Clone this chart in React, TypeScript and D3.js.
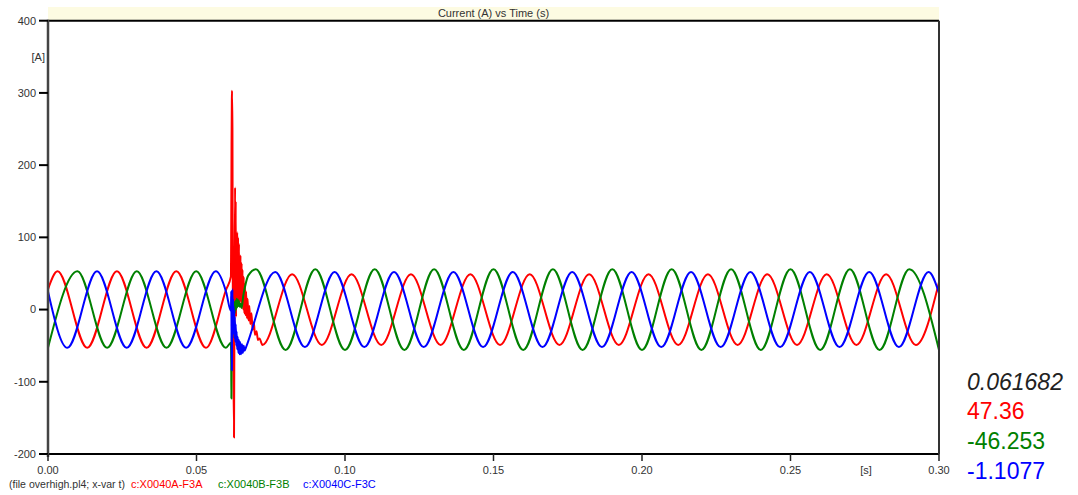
import React from 'react';
import * as d3 from 'd3';

const W = 1078;
const H = 495;

const titleText = 'Current (A) vs Time (s)';
const timeTicks = [0, 0.05, 0.1, 0.15, 0.2, 0.25, 0.3];
const timeTickLabels = ['0.00', '0.05', '0.10', '0.15', '0.20', '0.25', '0.30'];
const currentTicks = [-200, -100, 0, 100, 200, 300, 400];
const yUnit = '[A]';
const xUnit = '[s]';
const fileLabel = '(file overhigh.pl4; x-var t)';
const seriesNames = ['c:X0040A-F3A', 'c:X0040B-F3B', 'c:X0040C-F3C'];
const cursorTime = '0.061682';
const cursorValues = ['47.36', '-46.253', '-1.1077'];

// Phase A current (red): [time s, current A]
const phaseA: [number, number][] = [
  [0, 28], [0.0032, 53], [0.0132, -53], [0.0232, 53], [0.0332, -53], [0.0432, 53], [0.0532, -53],
  [0.06, 28], [0.0616, 46],
  [0.0617, 120], [0.0618, 230], [0.0619, 287], [0.06195, 303], [0.0621, 250], [0.0622, 60], [0.06263, -177],
  [0.0628, 40], [0.063, 169], [0.0631, 20], [0.0632, 150], [0.0633, -10], [0.0634, 80], [0.0635, 5],
  [0.0637, 107], [0.0638, 15], [0.064, 100], [0.0641, 10], [0.0643, 91], [0.0644, 20], [0.0645, 70],
  [0.0647, 10], [0.0648, 75], [0.065, 15], [0.0652, 64], [0.0653, 5], [0.0655, 55], [0.0657, 0],
  [0.0659, 45], [0.0661, -5], [0.0663, 35], [0.0665, -8], [0.0667, 25], [0.067, -12], [0.0672, 15],
  [0.0675, -15], [0.0678, 5], [0.0681, -20], [0.0685, -5], [0.0689, -28], [0.0693, -18], [0.0697, -35],
  [0.0702, -30], [0.0707, -42], [0.0712, -40],
  [0.0722, -49], [0.0822, 49], [0.0922, -49], [0.1022, 49], [0.1122, -49], [0.1222, 49], [0.1322, -49],
  [0.1422, 49], [0.1522, -49], [0.1622, 49], [0.1722, -49], [0.1822, 49], [0.1922, -49], [0.2022, 49],
  [0.2122, -49], [0.2222, 49], [0.2322, -49], [0.2422, 49], [0.2522, -49], [0.2622, 49], [0.2722, -49],
  [0.2822, 49], [0.2922, -49], [0.3, 38],
];

// Phase B current (green)
const phaseB: [number, number][] = [
  [0, -53], [0.0099, 53], [0.0199, -53], [0.0299, 53], [0.0399, -53], [0.0499, 53], [0.0599, -53],
  [0.0616, -46],
  [0.0617, -80], [0.06175, -123], [0.0618, -70], [0.0619, -20], [0.0621, -40], [0.0623, 5], [0.0625, -15],
  [0.0627, 10], [0.0629, -5], [0.0631, 12], [0.0633, 0], [0.0635, 15], [0.0637, 3], [0.0639, 14],
  [0.0641, 5], [0.0643, 12], [0.0645, 4], [0.0648, 8], [0.0652, 2], [0.0657, 18], [0.0663, 31], [0.0674, 47],
  [0.07, 56], [0.08, -56], [0.09, 56], [0.1, -56], [0.11, 56], [0.12, -56], [0.13, 56], [0.14, -56],
  [0.15, 56], [0.16, -56], [0.17, 56], [0.18, -56], [0.19, 56], [0.2, -56], [0.21, 56], [0.22, -56],
  [0.23, 56], [0.24, -56], [0.25, 56], [0.26, -56], [0.27, 56], [0.28, -56], [0.29, 56], [0.3, -56],
];

// Phase C current (blue)
const phaseC: [number, number][] = [
  [0, 25], [0.0065, -53], [0.0165, 53], [0.0265, -53], [0.0365, 53], [0.0465, -53], [0.0565, 53],
  [0.06, 24], [0.0616, -2],
  [0.0617, 25], [0.0618, -30], [0.0619, -84], [0.062, -10], [0.0621, 28], [0.0622, -25], [0.0623, 15],
  [0.0624, -30], [0.0625, 5], [0.0626, -35], [0.0627, 0], [0.0628, -40], [0.0629, -10], [0.0631, -45],
  [0.0632, -20], [0.0634, -50], [0.0635, -30], [0.0637, -55], [0.0639, -38], [0.0641, -60], [0.0643, -42],
  [0.0645, -62], [0.0647, -45], [0.065, -62], [0.0653, -48], [0.0656, -60], [0.0659, -50], [0.0662, -57],
  [0.0666, -53],
  [0.0765, 52], [0.0865, -52], [0.0965, 52], [0.1065, -52], [0.1165, 52], [0.1265, -52], [0.1365, 52],
  [0.1465, -52], [0.1565, 52], [0.1665, -52], [0.1765, 52], [0.1865, -52], [0.1965, 52], [0.2065, -52],
  [0.2165, 52], [0.2265, -52], [0.2365, 52], [0.2465, -52], [0.2565, 52], [0.2665, -52], [0.2765, 52],
  [0.2865, -52], [0.2965, 52], [0.3, 23],
];

const seriesColors = ['#ff0000', '#008000', '#0000ff'];
const FONT = '"Liberation Sans", Arial, sans-serif';

export default function App() {
  const x = d3.scaleLinear().domain([0, 0.3]).range([48, 939]);
  const y = d3.scaleLinear().domain([-200, 400]).range([454, 20.7]);
  const line = d3
    .line<[number, number]>()
    .x((d) => x(d[0]))
    .y((d) => y(d[1]))
    .curve(d3.curveMonotoneX);
  const series = [phaseA, phaseB, phaseC];
  const [x0, x1] = x.range();
  const [yb, yt] = y.range();

  const legendX = [131, 218, 303];

  return (
    <svg
      width={W}
      height={H}
      style={{ position: 'absolute', left: 0, top: 0, background: '#fff' }}
      fontFamily={FONT}
    >
      <defs>
        <clipPath id="plotClip">
          <rect x={x0} y={yt} width={x1 - x0} height={yb - yt} />
        </clipPath>
      </defs>
      <rect x={x0} y={7} width={x1 - x0} height={yt - 7} fill="#fdfbe2" />
      <text x={(x0 + x1) / 2} y={16.5} textAnchor="middle" fontSize={11} fill="#333">
        {titleText}
      </text>

      <g clipPath="url(#plotClip)">
        {series.map((s, i) => (
          <path key={i} d={line(s) || ''} fill="none" stroke={seriesColors[i]} strokeWidth={2} strokeLinejoin="round" />
        ))}
      </g>

      {/* frame */}
      <line x1={x0} x2={x1} y1={yt} y2={yt} stroke="#000" strokeWidth={2} />
      <line x1={x0} x2={x1} y1={yb} y2={yb} stroke="#000" strokeWidth={2} />
      <line x1={x1} x2={x1} y1={yt} y2={yb} stroke="#333" strokeWidth={2} />
      <line x1={x0} x2={x0} y1={yt - 1} y2={yb + 3} stroke="#444" strokeWidth={2.5} />

      {/* y axis */}
      {currentTicks.map((v) => (
        <g key={v}>
          <line x1={39} x2={x0} y1={y(v)} y2={y(v)} stroke="#000" strokeWidth={2} />
          <text x={36} y={y(v)} dy="0.35em" textAnchor="end" fontSize={11} fill="#333">
            {v}
          </text>
        </g>
      ))}
      <text x={45} y={y(350)} dy="0.35em" textAnchor="end" fontSize={11} fill="#333">
        {yUnit}
      </text>

      {/* x axis */}
      {timeTicks.map((t, i) => (
        <g key={t}>
          <line x1={x(t)} x2={x(t)} y1={yb} y2={yb + 7} stroke="#222" strokeWidth={1.5} />
          <text x={x(t)} y={474} textAnchor="middle" fontSize={11} fill="#333">
            {timeTickLabels[i]}
          </text>
        </g>
      ))}
      <text x={866} y={474} textAnchor="middle" fontSize={11} fill="#333">
        {xUnit}
      </text>

      {/* legend row */}
      <text x={9} y={488} fontSize={11} fill="#333" textLength={116} lengthAdjust="spacingAndGlyphs">
        {fileLabel}
      </text>
      {seriesNames.map((n, i) => (
        <text key={n} x={legendX[i]} y={488} fontSize={11} fill={seriesColors[i]}>
          {n}
        </text>
      ))}

      {/* cursor values */}
      <text x={967} y={390} fontSize={23} fontStyle="italic" fill="#222">
        {cursorTime}
      </text>
      {cursorValues.map((v, i) => (
        <text key={v} x={967} y={419 + i * 30} fontSize={23} fill={seriesColors[i]}>
          {v}
        </text>
      ))}
    </svg>
  );
}
